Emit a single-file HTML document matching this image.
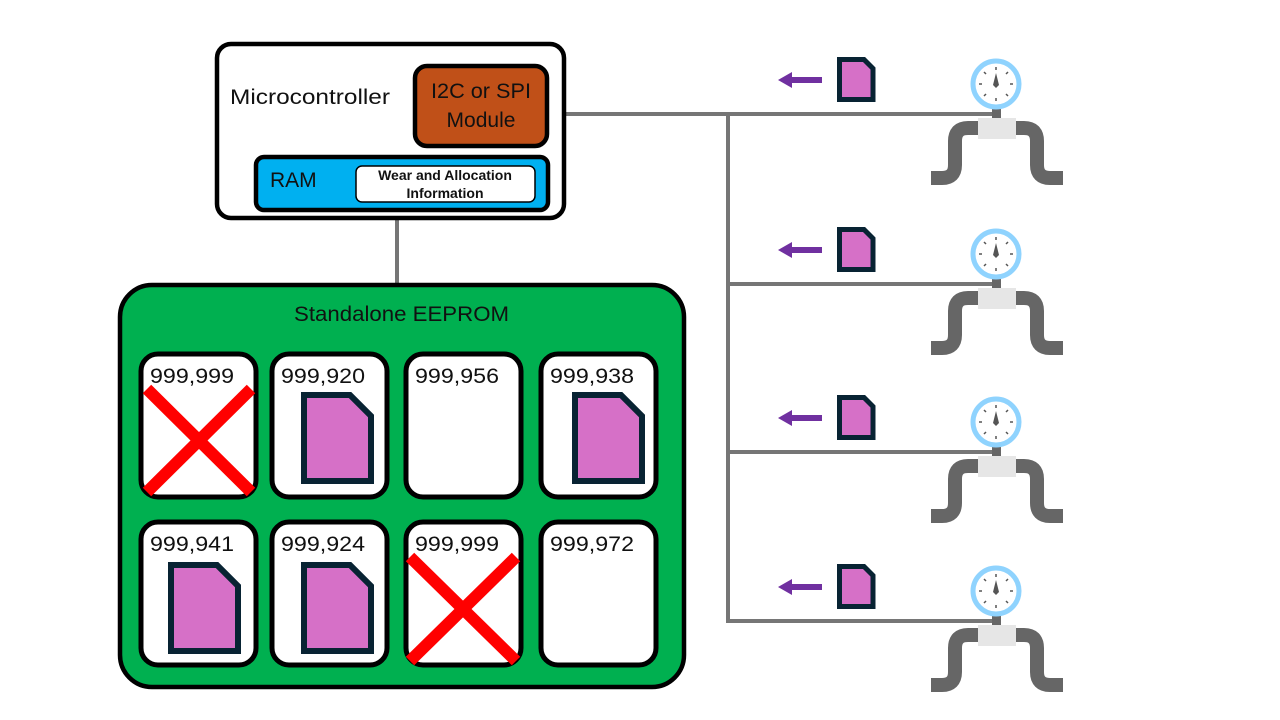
<!DOCTYPE html>
<html><head><meta charset="utf-8"><style>
html,body{margin:0;padding:0;background:#fff;}
svg{display:block;font-family:"Liberation Sans",sans-serif;}
</style></head><body>
<svg width="1280" height="720" viewBox="0 0 1280 720" xmlns="http://www.w3.org/2000/svg">
<defs>
<g id="doc"><path d="M3 3 H49 L70 24 V89 H3 Z" fill="#d670c7" stroke="#082333" stroke-width="6" stroke-linejoin="miter"/></g>
<g id="sdoc"><path d="M2.5 2.5 H27 L36 11.5 V42.5 H2.5 Z" fill="#d670c7" stroke="#082333" stroke-width="5"/></g>
<g id="gauge">
<rect x="992" y="104" width="9" height="16" fill="#666"/>
<path d="M978 128 H968 Q955 128 955 141 V165 Q955 178 942 178 H931" fill="none" stroke="#666" stroke-width="14"/>
<path d="M1014 128 H1024 Q1037 128 1037 141 V165 Q1037 178 1050 178 H1063" fill="none" stroke="#666" stroke-width="14"/>
<rect x="978" y="118" width="38" height="21" fill="#e6e6e6"/>
<circle cx="996" cy="84" r="23" fill="#fff" stroke="#8fd3fe" stroke-width="5"/>
<g stroke="#555" stroke-width="1.5">
<line x1="996" y1="67" x2="996" y2="70"/><line x1="996" y1="98" x2="996" y2="101"/>
<line x1="979" y1="84" x2="982" y2="84"/><line x1="1010" y1="84" x2="1013" y2="84"/>
<line x1="984" y1="72" x2="986" y2="74"/><line x1="1006" y1="94" x2="1008" y2="96"/>
<line x1="1008" y1="72" x2="1006" y2="74"/><line x1="986" y1="94" x2="984" y2="96"/>
</g>
<path d="M996 73 L999 85 L996 88 L993 85 Z" fill="#555"/>
<path d="M778 80 L792 72 V77 H822 V83 H792 V88 Z" fill="#7030a0"/>
<use href="#sdoc" x="837" y="57"/>
</g>
</defs>

<g stroke="#767676" stroke-width="4">
<line x1="565" y1="114" x2="995" y2="114"/>
<line x1="728" y1="114" x2="728" y2="623"/>
<line x1="728" y1="284" x2="995" y2="284"/>
<line x1="728" y1="452" x2="995" y2="452"/>
<line x1="728" y1="621" x2="995" y2="621"/>
<line x1="397" y1="219" x2="397" y2="285"/>
</g>

<use href="#gauge"/>
<use href="#gauge" y="170"/>
<use href="#gauge" y="338"/>
<use href="#gauge" y="507"/>

<rect x="217" y="44" width="347" height="174" rx="14" fill="#fff" stroke="#000" stroke-width="4.5"/>
<text x="230" y="104" font-size="21" fill="#111" textLength="160" lengthAdjust="spacingAndGlyphs">Microcontroller</text>
<rect x="415" y="66" width="132" height="80" rx="12" fill="#c05018" stroke="#000" stroke-width="4.5"/>
<text x="431" y="98" font-size="21" fill="#111" textLength="100" lengthAdjust="spacingAndGlyphs">I2C or SPI</text>
<text x="481" y="127" font-size="21" fill="#111" text-anchor="middle">Module</text>
<rect x="256" y="157" width="292" height="53" rx="8" fill="#00b0f0" stroke="#000" stroke-width="4.5"/>
<text x="270" y="187" font-size="21" fill="#111">RAM</text>
<rect x="356" y="166" width="179" height="36" rx="6" fill="#fff" stroke="#000" stroke-width="1.5"/>
<text x="445" y="180" font-size="14" font-weight="bold" fill="#111" text-anchor="middle">Wear and Allocation</text>
<text x="445" y="198" font-size="14" font-weight="bold" fill="#111" text-anchor="middle">Information</text>

<rect x="120" y="285" width="564" height="402" rx="32" fill="#00b050" stroke="#000" stroke-width="4.5"/>
<text x="294" y="321" font-size="21" fill="#111" textLength="215" lengthAdjust="spacingAndGlyphs">Standalone EEPROM</text>

<g fill="#fff" stroke="#000" stroke-width="5">
<rect x="141" y="354" width="115" height="143" rx="17"/>
<rect x="272" y="354" width="115" height="143" rx="17"/>
<rect x="406" y="354" width="115" height="143" rx="17"/>
<rect x="541" y="354" width="115" height="143" rx="17"/>
<rect x="141" y="522" width="115" height="143" rx="17"/>
<rect x="272" y="522" width="115" height="143" rx="17"/>
<rect x="406" y="522" width="115" height="143" rx="17"/>
<rect x="541" y="522" width="115" height="143" rx="17"/>
</g>
<g font-size="21" fill="#111">
<text x="150" y="383" textLength="84" lengthAdjust="spacingAndGlyphs">999,999</text>
<text x="281" y="383" textLength="84" lengthAdjust="spacingAndGlyphs">999,920</text>
<text x="415" y="383" textLength="84" lengthAdjust="spacingAndGlyphs">999,956</text>
<text x="550" y="383" textLength="84" lengthAdjust="spacingAndGlyphs">999,938</text>
<text x="150" y="551" textLength="84" lengthAdjust="spacingAndGlyphs">999,941</text>
<text x="281" y="551" textLength="84" lengthAdjust="spacingAndGlyphs">999,924</text>
<text x="415" y="551" textLength="84" lengthAdjust="spacingAndGlyphs">999,999</text>
<text x="550" y="551" textLength="84" lengthAdjust="spacingAndGlyphs">999,972</text>
</g>

<use href="#doc" x="301" y="392"/>
<use href="#doc" x="572" y="392"/>
<use href="#doc" x="168" y="562"/>
<use href="#doc" x="301" y="562"/>

<g stroke="#ff0000" stroke-width="12">
<line x1="147" y1="389" x2="251" y2="492"/>
<line x1="251" y1="389" x2="147" y2="492"/>
<line x1="410" y1="557" x2="516" y2="661"/>
<line x1="516" y1="557" x2="410" y2="661"/>
</g>
</svg>
</body></html>
